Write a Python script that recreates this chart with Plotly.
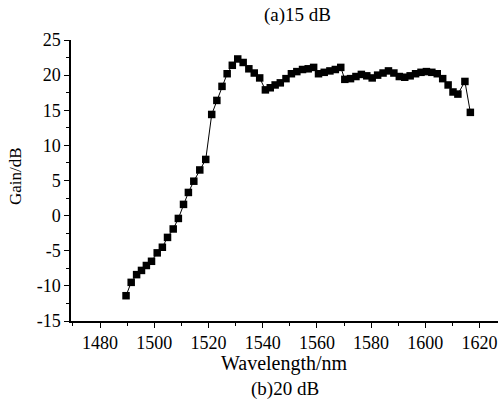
import plotly.graph_objects as go

wavelength = [1489.6, 1491.5, 1493.5, 1495.3, 1497.1, 1499.0, 1501.1, 1503.0, 1504.9, 1507.0,
              1508.9, 1510.8, 1512.6, 1514.6, 1516.8, 1519.0, 1521.2, 1523.1, 1525.0, 1526.9,
              1528.8, 1530.8, 1532.8, 1534.9, 1536.9, 1538.9, 1541.0, 1542.8, 1544.6, 1546.5,
              1548.6, 1550.6, 1552.6, 1554.7, 1556.8, 1558.8, 1560.6, 1562.7, 1564.8, 1566.8,
              1568.8, 1570.3, 1572.4, 1574.4, 1576.4, 1578.4, 1580.4, 1582.4, 1584.4, 1586.4,
              1588.4, 1590.4, 1592.4, 1594.4, 1596.4, 1598.4, 1600.4, 1602.4, 1604.4, 1606.4,
              1608.4, 1610.2, 1612.0, 1614.6, 1616.6]
gain = [-11.4, -9.5, -8.4, -7.8, -7.1, -6.5, -5.3, -4.5, -3.1, -1.9,
        -0.4, 1.6, 3.3, 4.9, 6.5, 8.0, 14.4, 16.4, 18.4, 20.2,
        21.4, 22.3, 21.8, 20.9, 20.3, 19.6, 17.9, 18.2, 18.6, 18.9,
        19.5, 20.2, 20.5, 20.8, 20.9, 21.1, 20.2, 20.4, 20.6, 20.8,
        21.1, 19.4, 19.5, 19.8, 20.1, 19.9, 19.6, 20.0, 20.3, 20.6,
        20.3, 19.8, 19.7, 19.9, 20.2, 20.4, 20.5, 20.4, 20.2, 19.5,
        18.6, 17.6, 17.3, 19.1, 14.7]

x_tick_vals = [1480, 1500, 1520, 1540, 1560, 1580, 1600, 1620]
x_tick_text = ["1480", "1500", "1520", "1540", "1560", "1580", "1600", "1620"]
y_tick_vals = [-15, -10, -5, 0, 5, 10, 15, 20, 25]
y_tick_text = ["-15", "-10", "-5", "0", "5", "10", "15", "20", "25"]

title_top = "(a)15 dB"
caption_bottom = "(b)20 dB"
x_title = "Wavelength/nm"
y_title = "Gain/dB"

font = "Liberation Serif, Times New Roman, serif"

fig = go.Figure()
fig.add_trace(go.Scatter(
    x=wavelength, y=gain, mode="lines+markers",
    line=dict(color="black", width=1),
    marker=dict(symbol="square", size=7.5, color="black"),
    showlegend=False,
))

fig.update_layout(
    width=498, height=409,
    margin=dict(l=71, r=0, t=40, b=88),
    paper_bgcolor="white", plot_bgcolor="white",
    font=dict(family=font, color="black", size=17),
    annotations=[
        dict(text=title_top, x=(297 - 71) / 427, y=1 + (40 - 15) / 281,
             xref="paper", yref="paper", showarrow=False,
             font=dict(size=19), xanchor="center", yanchor="middle"),
        dict(text=x_title, x=0.5, y=-(363 - 321) / 281,
             xref="paper", yref="paper", showarrow=False,
             font=dict(size=20), xanchor="center", yanchor="middle"),
        dict(text=caption_bottom, x=0.5, y=-(389 - 321) / 281,
             xref="paper", yref="paper", showarrow=False,
             font=dict(size=19), xanchor="center", yanchor="middle"),
        dict(text=y_title, x=-(71 - 15) / 427, y=(321 - 176) / 281, textangle=-90,
             xref="paper", yref="paper", showarrow=False,
             font=dict(size=17), xanchor="center", yanchor="middle"),
    ],
)

fig.update_xaxes(
    range=[1469.3, 1626.8], tickvals=x_tick_vals, ticktext=x_tick_text,
    showline=True, linecolor="black", linewidth=1.5,
    ticks="outside", ticklen=5, tickcolor="black", tickwidth=1,
    minor=dict(dtick=10, tick0=1480, ticks="outside", ticklen=3, tickcolor="black"),
    showgrid=False, zeroline=False,
    tickfont=dict(size=18),
)
fig.update_yaxes(
    range=[-15, 25], tickvals=y_tick_vals, ticktext=y_tick_text,
    showline=True, linecolor="black", linewidth=1.5,
    ticks="outside", ticklen=5, tickcolor="black", tickwidth=1,
    minor=dict(dtick=2.5, tick0=-15, ticks="outside", ticklen=3, tickcolor="black"),
    showgrid=False, zeroline=False,
    tickfont=dict(size=18),
)

fig.write_html("out.html")
